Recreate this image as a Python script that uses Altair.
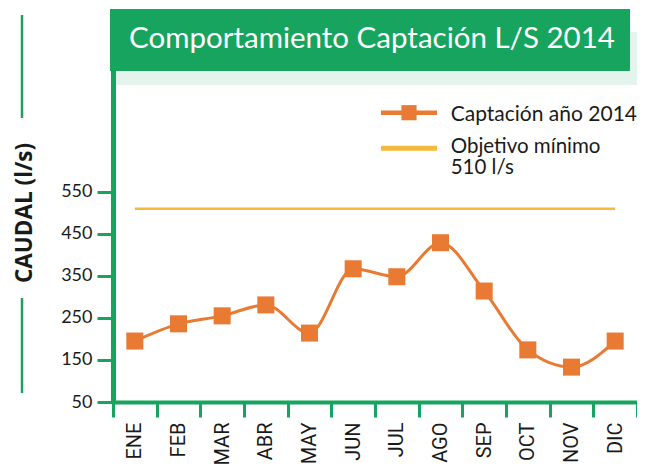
import altair as alt
import pandas as pd

# ---- data ----
meses = ["ENE", "FEB", "MAR", "ABR", "MAY", "JUN", "JUL", "AGO", "SEP", "OCT", "NOV", "DIC"]
captacion = [195, 236, 255, 281, 214, 367, 348, 429, 314, 174, 133, 195]
objetivo = 510
y_ticks = [50, 150, 250, 350, 450, 550]

titulo = "Comportamiento Captación L/S 2014"
eje_y = "CAUDAL (l/s)"
leyenda_1 = "Captación año 2014"
leyenda_2a = "Objetivo mínimo"
leyenda_2b = "510 l/s"

# ---- style ----
GREEN = "#17a45e"
PALE = "#e4f4ec"
ORANGE = "#e97a33"
YELLOW = "#f4ba3c"
TEXT = "#1a1a1a"

df = pd.DataFrame({"Mes": meses, "Caudal": captacion})
dfo = pd.DataFrame({"Mes": meses, "Caudal": [objetivo] * len(meses)})
one = pd.DataFrame({"k": [0]})

x_enc = alt.X(
    "Mes:N",
    sort=meses,
    scale=alt.Scale(type="band", paddingInner=0, paddingOuter=0),
    axis=alt.Axis(
        title=None,
        domainColor=GREEN,
        domainWidth=4,
        tickColor=GREEN,
        tickWidth=3,
        tickSize=15,
        tickBand="extent",
        labelAngle=270,
        labelAlign="right",
        labelBaseline="middle",
        labelPadding=5,
        labelFont="Roboto",
        labelFontSize=20,
        labelColor=TEXT,
    ),
)
y_enc = alt.Y(
    "Caudal:Q",
    scale=alt.Scale(domain=[50, 840], nice=False, zero=False),
    axis=alt.Axis(
        title=None,
        values=y_ticks,
        grid=False,
        domainColor=GREEN,
        domainWidth=5,
        tickColor=GREEN,
        tickWidth=3,
        tickSize=16,
        labelPadding=5,
        labelFont="Lato",
        labelFontSize=18,
        labelColor=TEXT,
    ),
)

pale = alt.Chart(one).mark_rect(color=PALE).encode(
    x=alt.value(3), x2=alt.value(524), y=alt.value(-38), y2=alt.value(15)
)
box = alt.Chart(one).mark_rect(color=GREEN).encode(
    x=alt.value(-3), x2=alt.value(517), y=alt.value(-61), y2=alt.value(1)
)
title_txt = alt.Chart(one).mark_text(
    text=titulo, font="Lato", fontSize=29.5, color="white", align="left", baseline="alphabetic"
).encode(x=alt.value(16), y=alt.value(-22))

left1 = alt.Chart(one).mark_rule(color=GREEN, strokeWidth=2.5).encode(
    x=alt.value(-91), y=alt.value(-55), y2=alt.value(48)
)
left2 = alt.Chart(one).mark_rule(color=GREEN, strokeWidth=2.5).encode(
    x=alt.value(-91), y=alt.value(228), y2=alt.value(323)
)
ytitle = alt.Chart(one).mark_text(
    text=eje_y, font="Open Sans", fontWeight="bold", fontSize=22.5, color=TEXT,
    angle=270, align="center", baseline="middle"
).encode(x=alt.value(-88.5), y=alt.value(143))

obj_line = alt.Chart(dfo).mark_line(color=YELLOW, strokeWidth=2.5).encode(x=x_enc, y=y_enc)
data_line = alt.Chart(df).mark_line(color=ORANGE, strokeWidth=3, interpolate="monotone").encode(
    x=x_enc, y=y_enc
)
points = alt.Chart(df).mark_square(color=ORANGE, size=290, opacity=1).encode(x=x_enc, y=y_enc)

leg_line1 = alt.Chart(one).mark_rule(color=ORANGE, strokeWidth=4.5).encode(
    x=alt.value(268), x2=alt.value(324), y=alt.value(42.7)
)
leg_sq = alt.Chart(one).mark_square(color=ORANGE, size=230, opacity=1).encode(
    x=alt.value(296), y=alt.value(42.7)
)
leg_txt1 = alt.Chart(one).mark_text(
    text=leyenda_1, font="Lato", fontSize=21, color=TEXT, align="left", baseline="alphabetic"
).encode(x=alt.value(337.7), y=alt.value(50.7))
leg_line2 = alt.Chart(one).mark_rule(color=YELLOW, strokeWidth=5).encode(
    x=alt.value(268), x2=alt.value(324), y=alt.value(78.3)
)
leg_txt2 = alt.Chart(one).mark_text(
    text=leyenda_2a, font="Lato", fontSize=20.5, color=TEXT, align="left", baseline="alphabetic"
).encode(x=alt.value(337.7), y=alt.value(83.3))
leg_txt3 = alt.Chart(one).mark_text(
    text=leyenda_2b, font="Lato", fontSize=20.5, color=TEXT, align="left", baseline="alphabetic"
).encode(x=alt.value(337.7), y=alt.value(104.3))

chart = alt.layer(
    pale, box, title_txt, left1, left2, ytitle,
    obj_line, data_line, points,
    leg_line1, leg_sq, leg_txt1, leg_line2, leg_txt2, leg_txt3,
).properties(
    width=524,
    height=332,
    autosize=alt.AutoSizeParams(type="none"),
    padding={"left": 105, "top": 62, "right": 0, "bottom": 63},
    background="white",
).configure_view(stroke=None)

chart.save("out.html", embed_options={"renderer": "svg", "actions": False})
